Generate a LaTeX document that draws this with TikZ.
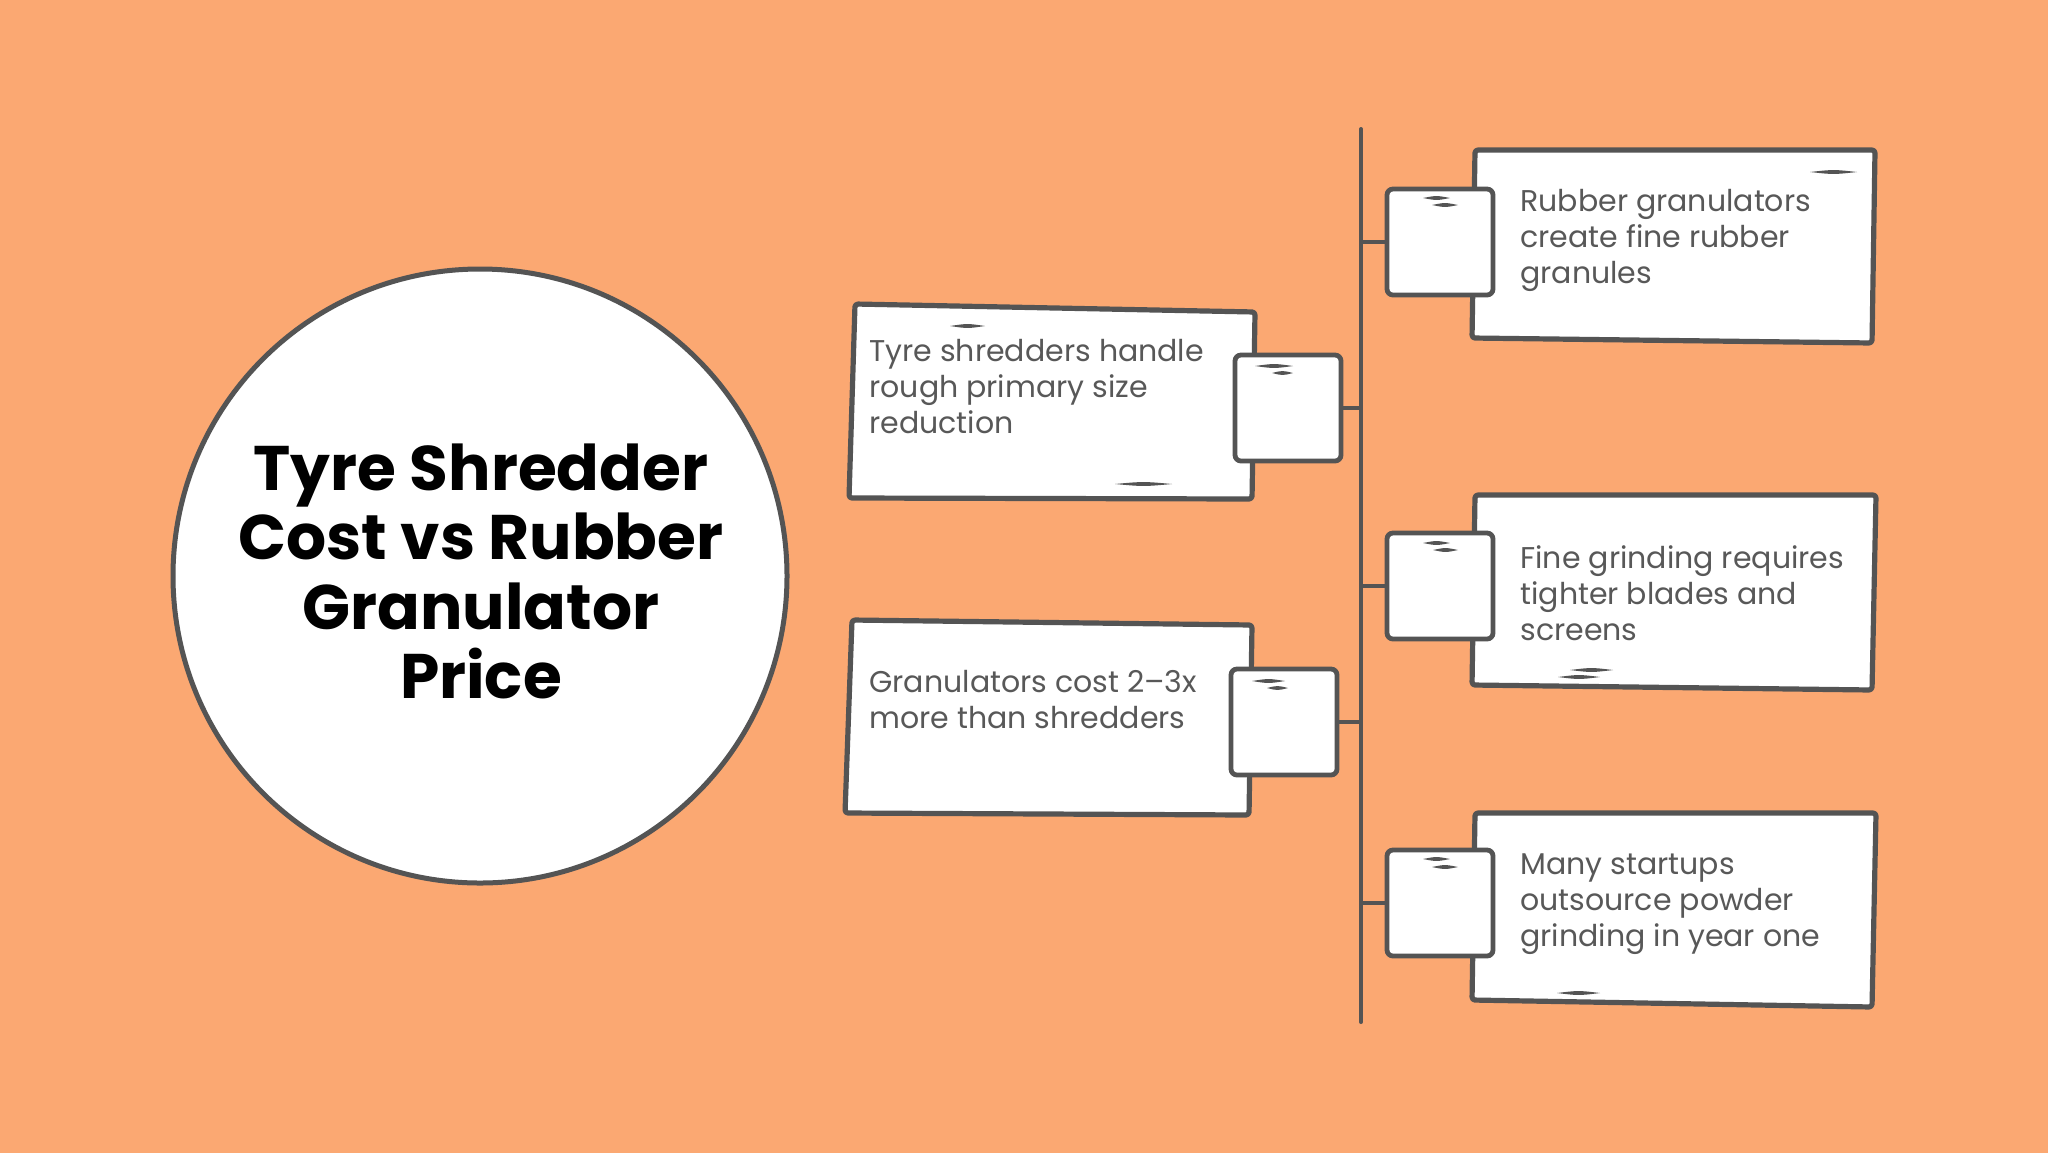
\documentclass[tikz,border=0pt]{standalone}
\usepackage{fontspec}
\setmainfont{Poppins}
\definecolor{bg}{RGB}{251,168,114}
\definecolor{ink}{RGB}{84,84,84}
\definecolor{txt}{RGB}{88,88,88}
\newcommand\sketchdash[3]{\fill[ink] (#1,#3) .. controls ({(#1+#2)/2},{#3-2.6}) .. (#2,#3) .. controls ({(#1+#2)/2},{#3+2.6}) .. (#1,#3) -- cycle;}
\begin{document}
\begin{tikzpicture}[x=0.5pt,y=-0.5pt,
  bigbox/.style={draw=ink, line width=2.6pt, fill=white, rounded corners=1.5pt, line join=round},
  sqbox/.style={draw=ink, line width=2.4pt, fill=white, rounded corners=3pt, inner sep=0pt, minimum width=53pt, minimum height=53pt},
  conn/.style={draw=ink, line width=2pt},
  body/.style={text=txt, inner sep=0pt, anchor=base west, font=\fontsize{15}{18}\selectfont},
  ttl/.style={text=black, inner sep=0pt, anchor=base, font=\fontsize{31.5}{34.75}\selectfont\bfseries}
]
\useasboundingbox (0,0) rectangle (2048,1152);
\fill[bg] (-10,-10) rectangle (2058,1162);

% hub circle and title
\node[circle, draw=ink, line width=2.5pt, fill=white, minimum size=307pt, inner sep=0pt] (hub) at (480,576) {};
\node[ttl] (title) at (481,490) {\parbox[t]{300pt}{\centering Tyre Shredder\\Cost vs Rubber\\Granulator\\Price}};

% spine
\coordinate (spT) at (1361,129);
\coordinate (spB) at (1361,1022);
\draw[conn, line cap=round] (spT) -- (spB);

% left box 1
\path[bigbox] (855,304) -- (1255,312) -- (1252,499) -- (849,498) -- cycle;
\sketchdash{950}{985}{326}
\sketchdash{1115}{1172}{484}
\node[sqbox] (sqL1) at (1288,408) {};
\sketchdash{1255}{1293}{366}
\sketchdash{1272}{1293}{373}
\draw[conn] (sqL1.east) -- (sqL1.east -| spT);
\node[body] (tL1) at (869,361) {\parbox[t]{190pt}{\raggedright Tyre shredders handle\\rough primary size\\reduction}};

% left box 2
\path[bigbox] (852,620) -- (1252,625) -- (1249,815) -- (845,813) -- cycle;
\node[sqbox] (sqL2) at (1284,722) {};
\sketchdash{1252}{1285}{681}
\sketchdash{1267}{1288}{688}
\draw[conn] (sqL2.east) -- (sqL2.east -| spT);
\node[body] (tL2) at (869,692) {\parbox[t]{190pt}{\raggedright Granulators cost 2--3x\\more than shredders}};

% right box 1
\path[bigbox] (1475,150) -- (1875,150) -- (1872,343) -- (1472,338) -- cycle;
\sketchdash{1810}{1857}{172}
\node[sqbox] (sqR1) at (1440,242) {};
\sketchdash{1423}{1450}{198}
\sketchdash{1432}{1458}{205}
\draw[conn] (sqR1.west) -- (sqR1.west -| spT);
\node[body] (tR1) at (1520,211) {\parbox[t]{180pt}{\raggedright Rubber granulators\\create fine rubber\\granules}};

% right box 2
\path[bigbox] (1475,495) -- (1876,495) -- (1872,690) -- (1472,685) -- cycle;
\sketchdash{1570}{1613}{670}
\sketchdash{1558}{1600}{677}
\node[sqbox] (sqR2) at (1440,586) {};
\sketchdash{1423}{1450}{543}
\sketchdash{1433}{1458}{550}
\draw[conn] (sqR2.west) -- (sqR2.west -| spT);
\node[body] (tR2) at (1520,568) {\parbox[t]{180pt}{\raggedright Fine grinding requires\\tighter blades and\\screens}};

% right box 3
\path[bigbox] (1475,813) -- (1876,813) -- (1872,1007) -- (1472,1000) -- cycle;
\sketchdash{1557}{1600}{993}
\node[sqbox] (sqR3) at (1440,903) {};
\sketchdash{1423}{1450}{859}
\sketchdash{1432}{1458}{867}
\draw[conn] (sqR3.west) -- (sqR3.west -| spT);
\node[body] (tR3) at (1520,874) {\parbox[t]{180pt}{\raggedright Many startups\\outsource powder\\grinding in year one}};
\end{tikzpicture}
\end{document}
